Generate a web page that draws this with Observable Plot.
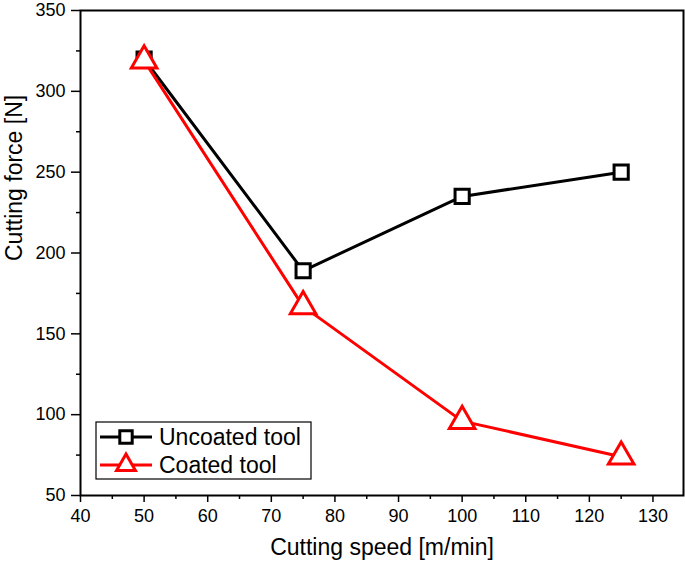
<!DOCTYPE html>
<html>
<head>
<meta charset="utf-8">
<script src="https://cdn.jsdelivr.net/npm/d3@7"></script>
<script src="https://cdn.jsdelivr.net/npm/@observablehq/plot@0.6"></script>
<style>
  body { margin: 0; background: #fff; }
  #chart { position: relative; width: 685px; height: 567px; }
  svg { font-family: "Liberation Sans", Arial, sans-serif; }
</style>
</head>
<body>
<div id="chart"></div>
<script>
const speeds = [50, 75, 100, 125];
const uncoated = [320, 189, 235, 250];
const coated = [319, 167, 96, 74];
const seriesNames = ["Uncoated tool", "Coated tool"];
const seriesColors = ["#000000", "#ff0000"];
const xMajor = [40, 50, 60, 70, 80, 90, 100, 110, 120, 130];
const xMinor = [45, 55, 65, 75, 85, 95, 105, 115, 125];
const yMajor = [50, 100, 150, 200, 250, 300, 350];
const yMinor = [75, 125, 175, 225, 275, 325];

const unData = speeds.map((s, i) => ({x: s, y: uncoated[i]}));
const coData = speeds.map((s, i) => ({x: s, y: coated[i]}));

const plot = Plot.plot({
  width: 685,
  height: 567,
  marginLeft: 80,
  marginRight: 2,
  marginTop: 10,
  marginBottom: 72,
  style: {fontFamily: "Liberation Sans, Arial, sans-serif", background: "white"},
  x: {domain: [40, 134.8]},
  y: {domain: [50, 350]},
  marks: [
    Plot.axisX({ticks: xMajor, tickSize: 7, tickPadding: 7, fontSize: 18, label: null, strokeWidth: 1.5}),
    Plot.axisX({ticks: xMinor, tickSize: 4, tickFormat: () => "", label: null, strokeWidth: 1.5}),
    Plot.axisY({ticks: yMajor, tickSize: 9, tickPadding: 6, fontSize: 18, label: null, strokeWidth: 1.5}),
    Plot.axisY({ticks: yMinor, tickSize: 4, tickFormat: () => "", label: null, strokeWidth: 1.5}),
    Plot.frame({stroke: "black", strokeWidth: 2}),
    Plot.text(["Cutting speed [m/min]"], {frameAnchor: "bottom", dy: 59, fontSize: 23, fill: "black"}),
    Plot.text(["Cutting force [N]"], {frameAnchor: "left", dx: -66, dy: 8, rotate: -90, fontSize: 23, fill: "black"}),
    Plot.line(unData, {x: "x", y: "y", stroke: seriesColors[0], strokeWidth: 3}),
    Plot.line(coData, {x: "x", y: "y", stroke: seriesColors[1], strokeWidth: 3}),
    Plot.dot(unData, {x: "x", y: "y", symbol: "square", r: 8, stroke: seriesColors[0], strokeWidth: 3, fill: "white"}),
    Plot.dot(coData, {x: "x", y: "y", symbol: "triangle", r: 9.5, stroke: seriesColors[1], strokeWidth: 3, fill: "white"})
  ]
});
document.getElementById("chart").appendChild(plot);

// Legend inside the plot area (lower left)
const svg = d3.select(plot);
const lg = svg.append("g").attr("transform", "translate(96,422)");
lg.append("rect").attr("width", 215).attr("height", 57)
  .attr("fill", "white").attr("stroke", "black").attr("stroke-width", 1.2);
const sq = d3.symbol(d3.symbolSquare, Math.PI * 7 * 7)();
const tri = d3.symbol(d3.symbolTriangle2, Math.PI * 9 * 9)();
seriesNames.forEach((name, i) => {
  const cy = 15 + i * 28;
  const row = lg.append("g");
  row.append("line").attr("x1", 4).attr("x2", 56).attr("y1", cy).attr("y2", cy)
    .attr("stroke", seriesColors[i]).attr("stroke-width", 3);
  row.append("path").attr("d", i === 0 ? sq : tri)
    .attr("transform", `translate(30,${cy})`)
    .attr("fill", "white").attr("stroke", seriesColors[i]).attr("stroke-width", 3);
  row.append("text").attr("x", 63).attr("y", cy).attr("dy", "0.35em")
    .attr("text-anchor", "start")
    .attr("font-size", 23).attr("fill", "black").text(name);
});
</script>
</body>
</html>
